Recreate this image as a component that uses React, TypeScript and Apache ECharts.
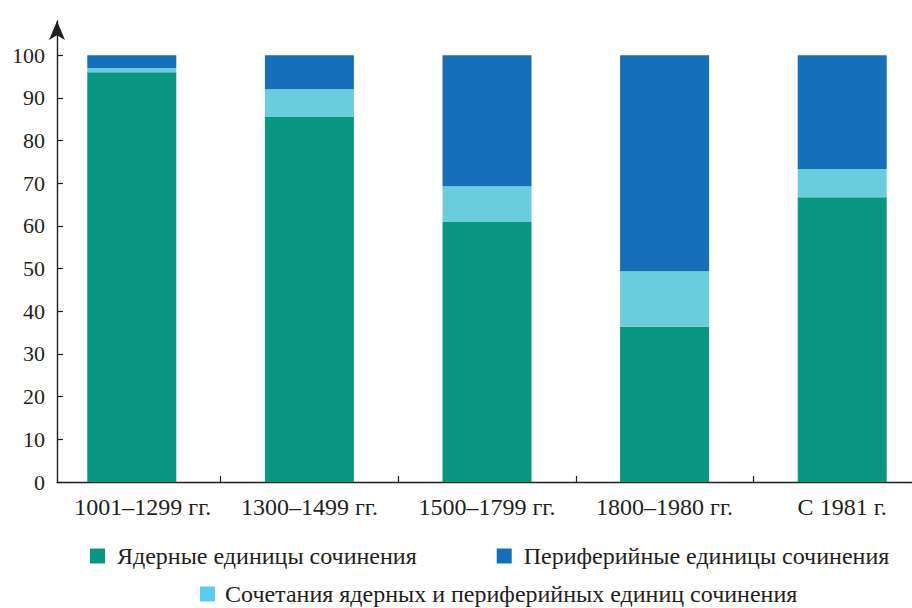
import React, { useEffect, useRef } from "react";
import * as echarts from "echarts";

const categories = ["1001–1299 гг.", "1300–1499 гг.", "1500–1799 гг.", "1800–1980 гг.", "С 1981 г."];
const coreValues = [96.0, 85.5, 60.9, 36.4, 66.7];
const comboValues = [1.0, 6.5, 8.4, 13.0, 6.6];
const peripheralValues = [3.0, 8.0, 30.7, 50.6, 26.7];
const yTicks = [0, 10, 20, 30, 40, 50, 60, 70, 80, 90, 100];

const seriesNames = [
  "Ядерные единицы сочинения",
  "Периферийные единицы сочинения",
  "Сочетания ядерных и периферийных единиц сочинения",
];

const FONT = "Liberation Serif";
const INK = "#231f20";
const GREEN = "#0b9583";
const BLUE = "#166fb8";
const LIGHT = "#6bccdb";
const LIGHT_LEGEND = "#5ccbf1";

export default function App() {
  const ref = useRef<HTMLDivElement>(null);
  useEffect(() => {
    if (!ref.current) return;
    const chart = echarts.init(ref.current, undefined, { renderer: "svg" });
    const gridTop = 21;
    const gridBottom = 126;
    const categoryData = categories.map((c, i) =>
      i === 0 ? { value: c, textStyle: { padding: [0, 0, 0, 22] } } : c
    );
    chart.setOption({
      animation: false,
      backgroundColor: "#ffffff",
      textStyle: { fontFamily: FONT, color: INK },
      grid: [
        { left: 43, width: 888, top: gridTop, bottom: gridBottom, outerBoundsMode: "none", containLabel: false },
        { left: 57, right: 0, top: gridTop, bottom: gridBottom, outerBoundsMode: "none", containLabel: false },
      ],
      legend: [
        {
          data: [
            { name: seriesNames[0], itemStyle: { color: GREEN } },
            { name: seriesNames[1], itemStyle: { color: BLUE } },
          ],
          left: 85,
          top: 539,
          orient: "horizontal",
          itemWidth: 15,
          itemHeight: 15,
          itemGap: 80,
          icon: "rect",
          selectedMode: false,
          textStyle: { fontFamily: FONT, fontSize: 24, color: INK, padding: [0, 0, 0, 7] },
        },
        {
          data: [{ name: seriesNames[2], itemStyle: { color: LIGHT_LEGEND } }],
          left: 195,
          top: 577,
          itemWidth: 15,
          itemHeight: 15,
          icon: "rect",
          selectedMode: false,
          textStyle: { fontFamily: FONT, fontSize: 24, color: INK, padding: [0, 0, 0, 5] },
        },
      ],
      xAxis: [
        {
          type: "category",
          gridIndex: 0,
          data: categoryData,
          axisLine: { show: false },
          axisTick: {
            show: true,
            inside: true,
            length: 6,
            interval: (i: number) => i > 0,
            lineStyle: { color: INK, width: 1.2 },
          },
          axisLabel: { fontFamily: FONT, fontSize: 24, color: INK, margin: 13, interval: 0 },
          splitLine: { show: false },
        },
        {
          type: "value",
          gridIndex: 1,
          min: 0,
          max: 1,
          axisLine: { show: true, onZero: false, lineStyle: { color: INK, width: 1.4 } },
          axisTick: { show: false },
          axisLabel: { show: false },
          splitLine: { show: false },
        },
      ],
      yAxis: [
        {
          type: "value",
          gridIndex: 0,
          min: 0,
          max: 108,
          show: false,
          splitLine: { show: false },
        },
        {
          type: "value",
          gridIndex: 1,
          min: 0,
          max: 108,
          interval: 10,
          axisLine: {
            show: true,
            symbol: ["none", "arrow"],
            symbolSize: [12, 19],
            lineStyle: { color: INK, width: 1.4 },
          },
          axisTick: {
            show: true,
            inside: true,
            length: 6,
            customValues: yTicks,
            lineStyle: { color: INK, width: 1.2 },
          },
          axisLabel: {
            fontFamily: FONT,
            fontSize: 22,
            color: INK,
            margin: 12,
            customValues: yTicks,
          },
          splitLine: { show: false },
        },
      ],
      series: [
        {
          name: seriesNames[0],
          type: "bar",
          stack: "total",
          xAxisIndex: 0,
          yAxisIndex: 0,
          barWidth: 89,
          data: coreValues,
          itemStyle: { color: GREEN },
        },
        {
          name: seriesNames[2],
          type: "bar",
          stack: "total",
          xAxisIndex: 0,
          yAxisIndex: 0,
          barWidth: 89,
          data: comboValues,
          itemStyle: { color: LIGHT },
        },
        {
          name: seriesNames[1],
          type: "bar",
          stack: "total",
          xAxisIndex: 0,
          yAxisIndex: 0,
          barWidth: 89,
          data: peripheralValues,
          itemStyle: { color: BLUE },
        },
      ],
    });
    return () => chart.dispose();
  }, []);
  return (
    <div
      ref={ref}
      style={{ position: "fixed", left: 0, top: 0, width: 912, height: 608, background: "#fff" }}
    />
  );
}
